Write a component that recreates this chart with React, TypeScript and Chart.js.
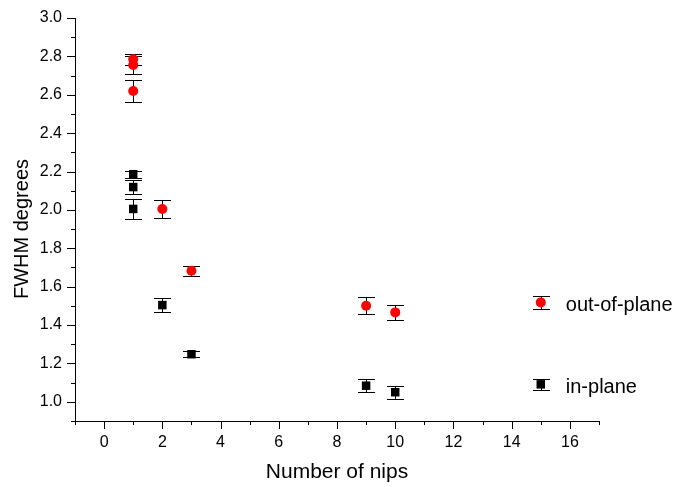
import React, { useEffect, useRef } from "react";
import { Chart, registerables } from "chart.js";

Chart.register(...registerables);

// ---- data ----
const inPlaneX = [1, 1, 1, 2, 3, 9, 10, 15];
const inPlaneY = [2.186, 2.119, 2.005, 1.504, 1.248, 1.084, 1.05, 1.091];
const inPlaneErr = [0.0175, 0.035, 0.054, 0.035, 0.016, 0.035, 0.034, 0.027];

const outPlaneX = [1, 1, 1, 2, 3, 9, 10, 15];
const outPlaneY = [2.785, 2.755, 2.62, 2.005, 1.683, 1.501, 1.466, 1.518];
const outPlaneErr = [0.029, 0.045, 0.056, 0.046, 0.026, 0.0435, 0.041, 0.032];

const seriesLabels = ["in-plane", "out-of-plane"];
const xTitle = "Number of nips";
const yTitle = "FWHM degrees";
const xRange = [-1, 17];
const yRange = [0.9, 3.0];

const FONT = "'Liberation Sans', Arial, Helvetica, sans-serif";

const errorBarPlugin = {
  id: "errorBars",
  beforeDatasetsDraw(chart: any) {
    const ctx = chart.ctx;
    const yScale = chart.scales.y;
    ctx.save();
    ctx.strokeStyle = "#000";
    ctx.lineWidth = 1;
    chart.data.datasets.forEach((ds: any, di: number) => {
      const meta = chart.getDatasetMeta(di);
      meta.data.forEach((el: any, i: number) => {
        const p = ds.data[i];
        const x = Math.round(el.x) + 0.5;
        const yT = Math.round(yScale.getPixelForValue(p.y + p.err)) + 0.5;
        const yB = Math.round(yScale.getPixelForValue(p.y - p.err)) + 0.5;
        ctx.beginPath();
        ctx.moveTo(x, yT);
        ctx.lineTo(x, yB);
        ctx.moveTo(x - 8.5, yT);
        ctx.lineTo(x + 8.5, yT);
        ctx.moveTo(x - 8.5, yB);
        ctx.lineTo(x + 8.5, yB);
        ctx.stroke();
      });
    });
    ctx.restore();
  },
};

const axisDecorPlugin = {
  id: "axisDecor",
  afterDraw(chart: any) {
    const ctx = chart.ctx;
    const xs = chart.scales.x;
    const ys = chart.scales.y;
    const area = chart.chartArea;
    ctx.save();
    ctx.strokeStyle = "#000";
    ctx.lineWidth = 1;
    ctx.beginPath();
    for (let v = xRange[0]; v <= xRange[1]; v += 1) {
      const px = Math.round(xs.getPixelForValue(v)) + 0.5;
      const len = v % 2 === 0 ? 8 : 4;
      ctx.moveTo(px, area.bottom);
      ctx.lineTo(px, area.bottom + len);
    }
    for (let k = 9; k <= 30; k++) {
      const v = k / 10;
      const py = Math.round(ys.getPixelForValue(v)) + 0.5;
      const len = k % 2 === 0 ? 8 : 4;
      ctx.moveTo(area.left, py);
      ctx.lineTo(area.left - len, py);
    }
    ctx.stroke();

    ctx.fillStyle = "#000";
    ctx.textAlign = "center";
    ctx.textBaseline = "middle";
    ctx.font = `21px ${FONT}`;
    ctx.fillText(xTitle, (area.left + area.right) / 2, 472);
    ctx.save();
    ctx.translate(22, 229);
    ctx.rotate(-Math.PI / 2);
    ctx.font = `20px ${FONT}`;
    ctx.fillText(yTitle, 0, 0);
    ctx.restore();

    ctx.textAlign = "left";
    ctx.font = `20px ${FONT}`;
    chart.data.datasets.forEach((ds: any, di: number) => {
      const meta = chart.getDatasetMeta(di);
      const el = meta.data[meta.data.length - 1];
      ctx.fillText(ds.label, el.x + 25, el.y + 3);
    });
    ctx.restore();
  },
};

const zeroPad = (s: any) => {
  s.paddingTop = 0;
  s.paddingBottom = 0;
  s.paddingLeft = 0;
  s.paddingRight = 0;
};

export default function App() {
  const ref = useRef<HTMLCanvasElement | null>(null);

  useEffect(() => {
    if (!ref.current) return;
    const chart = new Chart(ref.current, {
      type: "scatter",
      data: {
        datasets: [
          {
            label: seriesLabels[0],
            data: inPlaneX.map((x, i) => ({ x, y: inPlaneY[i], err: inPlaneErr[i] })),
            pointStyle: "rect",
            pointRadius: 6,
            pointBackgroundColor: "#000",
            pointBorderColor: "#000",
            pointBorderWidth: 0,
          },
          {
            label: seriesLabels[1],
            data: outPlaneX.map((x, i) => ({ x, y: outPlaneY[i], err: outPlaneErr[i] })),
            pointStyle: "circle",
            pointRadius: 5,
            pointBackgroundColor: "#ff0000",
            pointBorderColor: "#ff0000",
            pointBorderWidth: 0,
          },
        ] as any,
      },
      options: {
        responsive: false,
        animation: false,
        devicePixelRatio: 1,
        layout: { padding: { left: 0, top: 18, right: 74, bottom: 0 } },
        plugins: {
          legend: { display: false },
          tooltip: { enabled: false },
        },
        scales: {
          x: {
            type: "linear",
            min: xRange[0],
            max: xRange[1],
            grid: { display: true, drawOnChartArea: false, drawTicks: false },
            border: { display: true, color: "#000", width: 1 },
            ticks: {
              stepSize: 1,
              autoSkip: false,
              maxRotation: 0,
              padding: 12,
              color: "#000",
              font: { family: FONT, size: 16 },
              callback: (v: any) => (Number(v) % 2 === 0 ? String(v) : ""),
            },
            afterFit: (s: any) => {
              s.height = 66;
              zeroPad(s);
            },
          },
          y: {
            type: "linear",
            min: yRange[0],
            max: yRange[1],
            grid: { display: true, drawOnChartArea: false, drawTicks: false },
            border: { display: true, color: "#000", width: 1 },
            ticks: {
              stepSize: 0.1,
              autoSkip: false,
              padding: 13,
              color: "#000",
              font: { family: FONT, size: 16 },
              callback: (v: any) => {
                const k = Math.round(Number(v) * 10);
                return k % 2 === 0 ? (k / 10).toFixed(1) : "";
              },
            },
            afterFit: (s: any) => {
              s.width = 75;
              zeroPad(s);
            },
          },
        },
      },
      plugins: [errorBarPlugin, axisDecorPlugin],
    } as any);
    return () => chart.destroy();
  }, []);

  return (
    <div style={{ position: "fixed", left: 0, top: 0, width: 673, height: 487, background: "#fff" }}>
      <canvas ref={ref} width={673} height={487} style={{ display: "block" }} />
    </div>
  );
}
